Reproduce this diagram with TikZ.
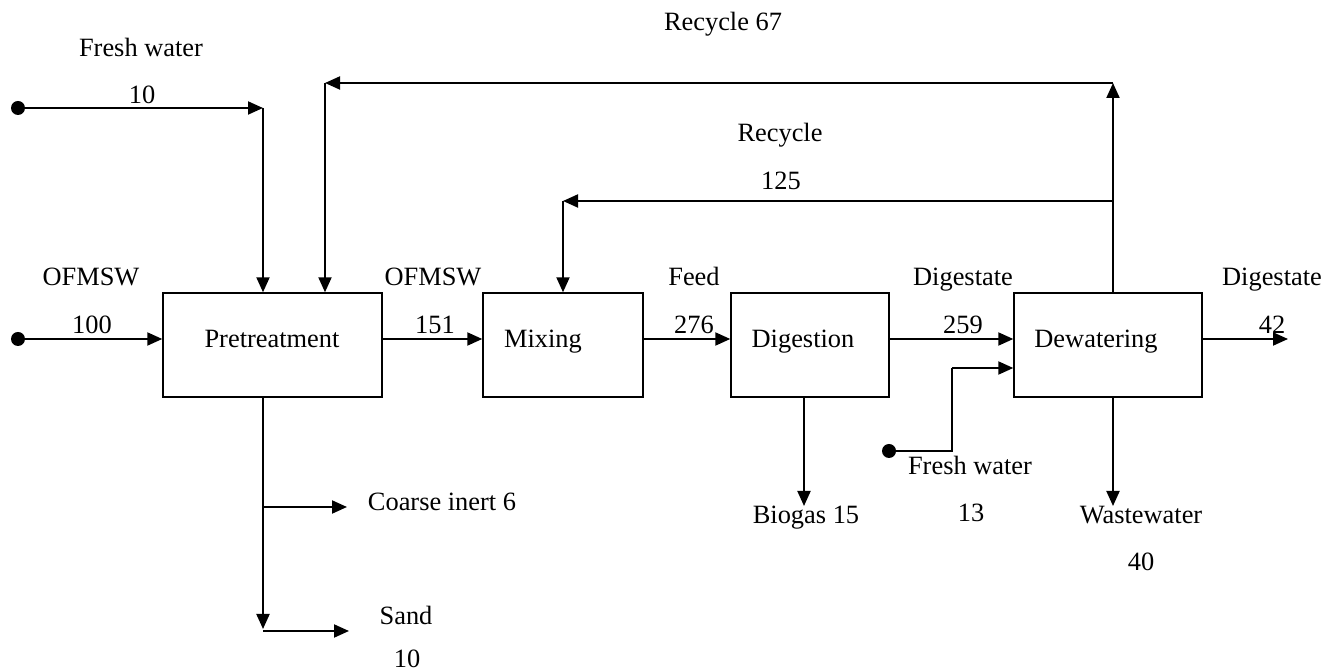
\documentclass[tikz,border=0pt]{standalone}
\usepackage{fontspec}
\setmainfont{Liberation Serif}
\usetikzlibrary{arrows.meta}
\begin{document}
\begin{tikzpicture}[x=0.5pt,y=-0.5pt,
  font=\fontsize{13.2}{15}\selectfont,
  unit/.style={draw,line width=0.7pt,minimum width=#1,minimum height=52pt,inner sep=0pt},
  lbl/.style={anchor=base,inner sep=0pt},
  dot/.style={circle,fill,inner sep=0pt,minimum size=7pt},
  flow/.style={line width=1pt,-{Triangle[length=7.5pt,width=6.5pt]}},
  pipe/.style={line width=1pt},
  thinpipe/.style={line width=0.55pt}]
\useasboundingbox (0,0) rectangle (1339,672);

% process units
\node[unit=109.5pt] (pre) at (272.5,345) {};
\node[unit=80pt]    (mix) at (563,345) {};
\node[unit=79pt]    (dig) at (810,345) {};
\node[unit=94pt]    (dew) at (1108,345) {};

\node[lbl] (tpre) at (272,348) {Pretreatment};
\node[lbl] (tmix) at (543,348) {Mixing};
\node[lbl] (tdig) at (803,348) {Digestion};
\node[lbl] (tdew) at (1096,348) {Dewatering};

% main line level and helper points
\coordinate (row) at (0,339);
\node[dot] (fwin) at (18,108) {};
\node[dot] (ofin) at (18,339) {};
\coordinate (fwc) at (263,108);
\coordinate (out) at (1288,339);
\node[dot] (fw2) at (889,451) {};
\coordinate (fw2a) at (952,451);
\coordinate (fw2b) at (952,368);
\coordinate (gas) at (804,506);
\coordinate (ww) at (1113,506);
\coordinate (split) at (1113,201);
\coordinate (rtop) at (1113,83);
\coordinate (r67) at (325,83);
\coordinate (r125) at (563,201);
\coordinate (sandv) at (263,629);
\coordinate (cbr) at (263,507);
\coordinate (cend) at (347,507);
\coordinate (sbr) at (263,631);
\coordinate (send) at (349,631);

% feed streams
\draw[flow] (fwin.center) -- (fwc);
\draw[flow] (fwc) -- (fwc |- pre.north);
\draw[flow] (ofin.center) -- (pre.west |- row);
\draw[flow] (pre.east |- row) -- (mix.west |- row);
\draw[flow] (mix.east |- row) -- (dig.west |- row);
\draw[flow] (dig.east |- row) -- (dew.west |- row);
\draw[flow] (dew.east |- row) -- (out);
\draw[pipe] (fw2.center) -- (fw2a) -- (fw2b);
\draw[flow] (fw2b) -- (dew.west |- fw2b);

% outlets
\draw[flow] (gas |- dig.south) -- (gas);
\draw[flow] (ww |- dew.south) -- (ww);
\draw[flow] (sandv |- pre.south) -- (sandv);
\draw[flow] (cbr) -- (cend);
\draw[flow] (sbr) -- (send);

% recycle loops
\draw[thinpipe] (split |- dew.north) -- (split);
\draw[flow] (split) -- (rtop);
\draw[flow] (rtop) -- (r67);
\draw[flow] (r67) -- (r67 |- pre.north);
\draw[flow] (split) -- (r125);
\draw[flow] (r125) -- (r125 |- mix.north);

% stream labels
\node[lbl] (l1) at (141,57) {Fresh water};
\node[lbl] (l2) at (142,104) {10};
\node[lbl] (l3) at (91,286) {OFMSW};
\node[lbl] (l4) at (92,334) {100};
\node[lbl] (l5) at (723,31) {Recycle 67};
\node[lbl] (l6) at (780,142) {Recycle};
\node[lbl] (l7) at (781,190) {125};
\node[lbl] (l8) at (433,286) {OFMSW};
\node[lbl] (l9) at (435,334) {151};
\node[lbl] (l10) at (694,286) {Feed};
\node[lbl] (l11) at (694,334) {276};
\node[lbl] (l12) at (963,286) {Digestate};
\node[lbl] (l13) at (963,334) {259};
\node[lbl] (l14) at (1272,286) {Digestate};
\node[lbl] (l15) at (1272,334) {42};
\node[lbl] (l16) at (970,475) {Fresh water};
\node[lbl] (l17) at (971,522) {13};
\node[lbl] (l18) at (806,524) {Biogas 15};
\node[lbl] (l19) at (1141,524) {Wastewater};
\node[lbl] (l20) at (1141,571) {40};
\node[lbl] (l21) at (442,511) {Coarse inert 6};
\node[lbl] (l22) at (406,625) {Sand};
\node[lbl] (l23) at (407,668) {10};
\end{tikzpicture}
\end{document}
